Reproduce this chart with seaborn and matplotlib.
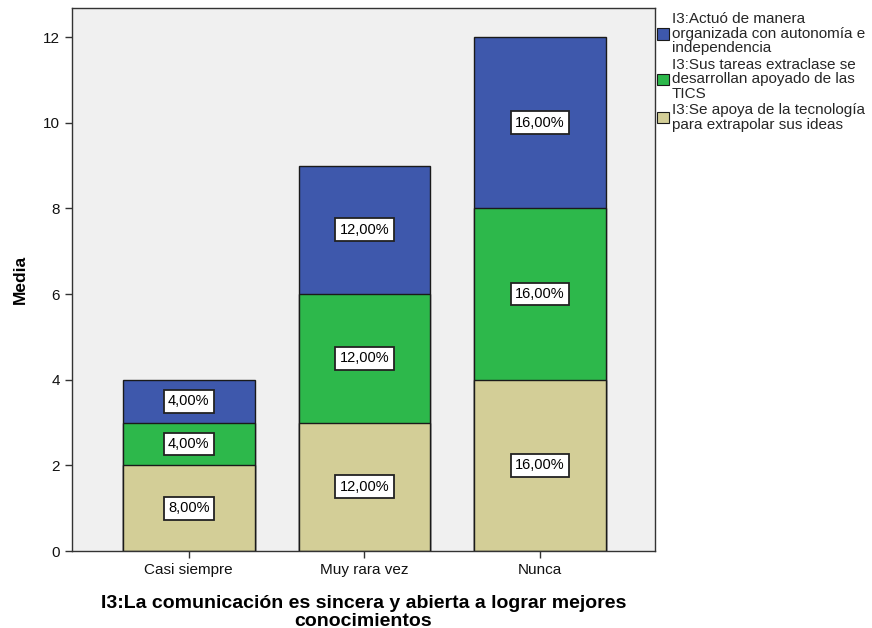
import numpy as np
import pandas as pd
import matplotlib
matplotlib.use("Agg")
import matplotlib.pyplot as plt
import seaborn as sns
from matplotlib.patches import Patch

# data
categories = ["Casi siempre", "Muy rara vez", "Nunca"]
tecnologia = [2, 3, 4]
tics = [1, 3, 4]
autonomia = [1, 3, 4]
pct_tecnologia = ["8,00%", "12,00%", "16,00%"]
pct_tics = ["4,00%", "12,00%", "16,00%"]
pct_autonomia = ["4,00%", "12,00%", "16,00%"]

series_names = [
    "I3:Actuó de manera\norganizada con autonomía e\nindependencia",
    "I3:Sus tareas extraclase se\ndesarrollan apoyado de las\nTICS",
    "I3:Se apoya de la tecnología\npara extrapolar sus ideas",
]
colors = ["#3E58AC", "#2DB84B", "#D3CE97"]

sns.set_style("white")
plt.rcParams["font.family"] = ["Liberation Sans", "DejaVu Sans"]

df = pd.DataFrame({
    "cat": categories,
    "tec": tecnologia,
    "tics": tics,
    "aut": autonomia,
})
df["c1"] = df["tec"]
df["c2"] = df["tec"] + df["tics"]
df["c3"] = df["c2"] + df["aut"]

fig = plt.figure(figsize=(8.72, 6.28), dpi=100)
ax = fig.add_axes([0.0826, 0.1226, 0.6685, 0.8646])
ax.set_facecolor("#F0F0F0")

# stacked: draw cumulative totals, tallest first
for col, color in [("c3", colors[0]), ("c2", colors[1]), ("c1", colors[2])]:
    sns.barplot(data=df, x="cat", y=col, color=color, width=0.75,
                edgecolor="#1a1a1a", linewidth=1.0, saturation=1,
                errorbar=None, ax=ax)

# labels in boxes at segment centers
box = dict(boxstyle="square,pad=0.3", fc="white", ec="#222222", lw=1.3)
for i in range(len(categories)):
    segs = [
        (df["c1"][i] / 2, pct_tecnologia[i]),
        ((df["c1"][i] + df["c2"][i]) / 2, pct_tics[i]),
        ((df["c2"][i] + df["c3"][i]) / 2, pct_autonomia[i]),
    ]
    for y, txt in segs:
        ax.text(i, y, txt, ha="center", va="center", fontsize=10.5,
                color="black", bbox=box)

ax.set_xlim(-0.665, 2.655)
ax.set_ylim(0, 12.68)
ax.set_yticks([0, 2, 4, 6, 8, 10, 12])
ax.tick_params(axis="both", length=5, width=1, color="#333333",
               labelsize=11, labelcolor="#111111", direction="out",
               bottom=True, left=True)
for s in ax.spines.values():
    s.set_color("#333333")
    s.set_linewidth(1.0)

ax.set_ylabel("Media", fontsize=12.5, fontweight="bold", color="black")
ax.yaxis.labelpad = 11
ax.set_xlabel("I3:La comunicación es sincera y abierta a lograr mejores\nconocimientos",
              fontsize=14, fontweight="bold", linespacing=1.05, color="black")
ax.xaxis.labelpad = 13

handles = [Patch(facecolor=c, edgecolor="#1a1a1a", lw=0.8) for c in colors]
leg = fig.legend(handles, series_names, loc="upper left",
                 bbox_to_anchor=(0.752, 0.983), frameon=False, fontsize=11,
                 handlelength=0.75, handleheight=0.75, handletextpad=0.2,
                 labelspacing=0.15, borderaxespad=0, borderpad=0.1)
for t in leg.get_texts():
    t.set_linespacing(1.05)

fig.savefig("out.png", dpi=100)
